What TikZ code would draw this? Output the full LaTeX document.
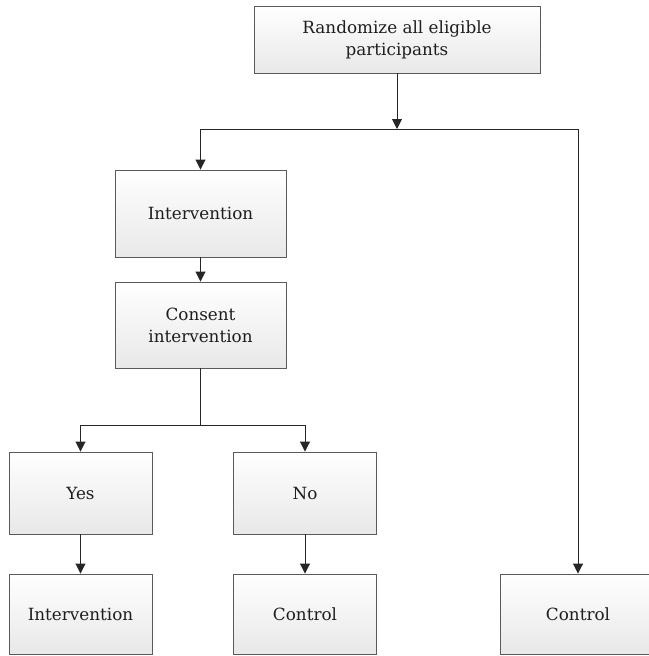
\documentclass[tikz,border=0pt]{standalone}
\usepackage{fontspec}
\setmainfont{DejaVu Serif}
\usetikzlibrary{arrows.meta}
\definecolor{boxline}{HTML}{5A5A5A}
\definecolor{boxbottom}{HTML}{E8E8E8}
\definecolor{txt}{HTML}{1E1E1E}
\tikzset{
  x=1pt, y=-1pt,
  flowbox/.style={draw=boxline, line width=0.9pt, top color=white, bottom color=boxbottom,
    shading angle=0, text=txt, align=center, inner sep=0pt,
    font=\fontsize{16.8}{22}\selectfont},
  link/.style={draw=black!85, line width=0.9pt, -{Triangle[length=10pt,width=10pt]}},
  plain/.style={draw=black!85, line width=0.9pt}
}
\begin{document}
\begin{tikzpicture}
\useasboundingbox (0,0) rectangle (648,656);
% boxes
\node[flowbox, minimum width=286pt, minimum height=67pt] (top) at (397,39.5) {Randomize all eligible\\participants};
\node[flowbox, minimum width=171pt, minimum height=87pt] (int1) at (200.5,213.5) {Intervention};
\node[flowbox, minimum width=171pt, minimum height=86pt] (cons) at (200.5,325) {Consent\\intervention};
\node[flowbox, minimum width=143pt, minimum height=82pt] (yes) at (80.5,493) {Yes};
\node[flowbox, minimum width=143pt, minimum height=82pt] (no) at (305,493) {No};
\node[flowbox, minimum width=143pt, minimum height=80pt] (int2) at (80.5,614) {Intervention};
\node[flowbox, minimum width=143pt, minimum height=80pt] (ctl) at (305,614) {Control};
\node[flowbox, minimum width=156pt, minimum height=80pt] (ctlR) at (578,614) {Control};
% branch points
\coordinate (hb) at (397,129);
\coordinate (hl) at (200.5,129);
\coordinate (hr) at (578,129);
\coordinate (cb) at (200.5,425);
% connectors
\draw[link] (top) -- (hb);
\draw[plain] (hl) -- (hr);
\draw[link] (hl) -- (int1.north);
\draw[link] (hr) -- (ctlR.north);
\draw[link] (int1) -- (cons);
\draw[plain] (cons) -- (cb);
\draw[link] (cb) -| (yes.north);
\draw[link] (cb) -| (no.north);
\draw[link] (yes) -- (int2);
\draw[link] (no) -- (ctl);
\end{tikzpicture}
\end{document}
